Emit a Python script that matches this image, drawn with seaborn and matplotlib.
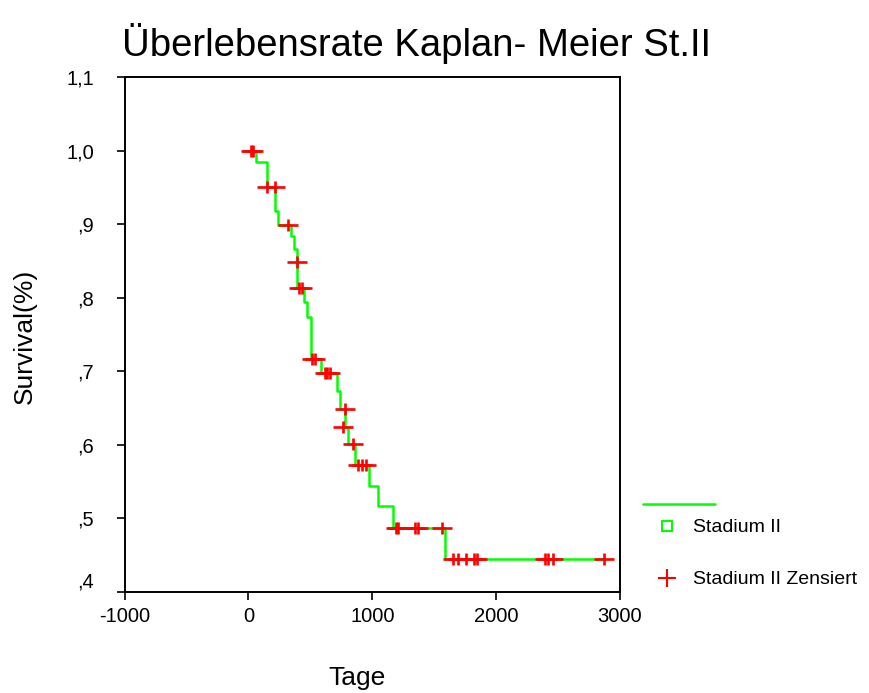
import matplotlib
matplotlib.use("Agg")
import matplotlib.pyplot as plt
from matplotlib.path import Path
from matplotlib.lines import Line2D
import seaborn as sns

# Kaplan-Meier step curve: event times (days) and survival after each event
event_days = [0, 61, 147, 214, 241, 345, 366, 388, 394, 451, 475, 502, 588,
              718, 740, 781, 802, 862, 973, 1043, 1170, 1590, 2868]
survival = [1.0, 0.984, 0.951, 0.918, 0.899, 0.884, 0.866, 0.848, 0.8125,
            0.794, 0.773, 0.716, 0.697, 0.673, 0.649, 0.624, 0.601, 0.5725,
            0.544, 0.516, 0.487, 0.444, 0.444]

# Censored observations (days) and the survival level at which they sit
censor_days = [18, 39, 147, 214, 322, 388, 410, 429, 510, 537, 617, 636, 655,
               781, 762, 843, 885, 913, 946, 1191, 1210, 1345, 1367, 1561,
               1655, 1695, 1757, 1825, 1844, 2391, 2415, 2458, 2868]
censor_surv = [1.0, 1.0, 0.951, 0.951, 0.899, 0.848, 0.8125, 0.8125, 0.716,
               0.716, 0.697, 0.697, 0.697, 0.649, 0.624, 0.601, 0.5725,
               0.5725, 0.5725, 0.487, 0.487, 0.487, 0.487, 0.487, 0.444,
               0.444, 0.444, 0.444, 0.444, 0.444, 0.444, 0.444, 0.444]

x_ticks = [-1000, 0, 1000, 2000, 3000]
y_ticks = [0.4, 0.5, 0.6, 0.7, 0.8, 0.9, 1.0, 1.1]
y_tick_labels = [",4", ",5", ",6", ",7", ",8", ",9", "1,0", "1,1"]

title_text = "Überlebensrate Kaplan- Meier St.II"
x_label = "Tage"
y_label = "Survival(%)"
legend_labels = ["Stadium II", "Stadium II Zensiert"]

GREEN = "#00ff00"
RED = "#ff0000"

sns.set_style("white")
plt.rcParams["font.family"] = ["Liberation Sans", "DejaVu Sans"]
plt.rcParams["text.color"] = "black"

fig = plt.figure(figsize=(8.7, 6.93), dpi=100)
ax = fig.add_axes([0.1433, 0.1462, 0.7126 - 0.1433, 0.8889 - 0.1462])

sns.lineplot(x=event_days, y=survival, ax=ax, color=GREEN, linewidth=1.8,
             drawstyle="steps-post", estimator=None, sort=False, zorder=2)

# wide plus marker for censored cases
plus = Path([(-1, 0), (1, 0), (0, -0.62), (0, 0.62)],
            [Path.MOVETO, Path.LINETO, Path.MOVETO, Path.LINETO])
ax.plot(censor_days, censor_surv, linestyle="none", marker=plus,
        markersize=15, markeredgewidth=1.9, color=RED, zorder=3)

ax.set_xlim(-1000, 3000)
ax.set_ylim(0.4, 1.1)
ax.set_xticks(x_ticks)
ax.set_xticklabels([str(v) for v in x_ticks])
ax.set_yticks(y_ticks)
ax.set_yticklabels(y_tick_labels)
ax.tick_params(axis="both", direction="out", length=6, width=1.2,
               labelsize=14.5, color="black", labelcolor="black",
               bottom=True, left=True)
ax.tick_params(axis="y", pad=16)
ax.tick_params(axis="x", pad=5)
# lowest y label sits just above its tick so it clears the x labels
ax.get_yticklabels()[0].set_verticalalignment("bottom")
for sp in ax.spines.values():
    sp.set_visible(True)
    sp.set_color("black")
    sp.set_linewidth(1.4)
ax.set_xlabel("")
ax.set_ylabel("")

fig.text(417 / 870, 1 - 43 / 693, title_text, fontsize=27.5, color="black",
         ha="center", va="center")
fig.text(357 / 870, 1 - 678 / 693, x_label, fontsize=19, color="black",
         ha="center", va="center")
fig.text(25 / 870, 1 - 336 / 693, y_label, fontsize=19, rotation=90,
         color="black", ha="center", va="center")

# legend block drawn at figure level
fig.add_artist(Line2D([643 / 870, 715 / 870], [1 - 504 / 693, 1 - 504 / 693],
                      color=GREEN, linewidth=1.8, transform=fig.transFigure))
fig.add_artist(Line2D([667 / 870], [1 - 526 / 693], marker="s", markersize=7,
                      markerfacecolor="none", markeredgecolor=GREEN,
                      markeredgewidth=1.5, linestyle="none",
                      transform=fig.transFigure))
fig.add_artist(Line2D([667 / 870], [1 - 578 / 693], marker="+", markersize=13,
                      markeredgecolor=RED, markeredgewidth=1.5,
                      linestyle="none", transform=fig.transFigure))
fig.text(693 / 870, 1 - 528 / 693, legend_labels[0], fontsize=14,
         color="black", ha="left", va="center")
fig.text(693 / 870, 1 - 580 / 693, legend_labels[1], fontsize=14,
         color="black", ha="left", va="center")

fig.savefig("out.png", dpi=100)
